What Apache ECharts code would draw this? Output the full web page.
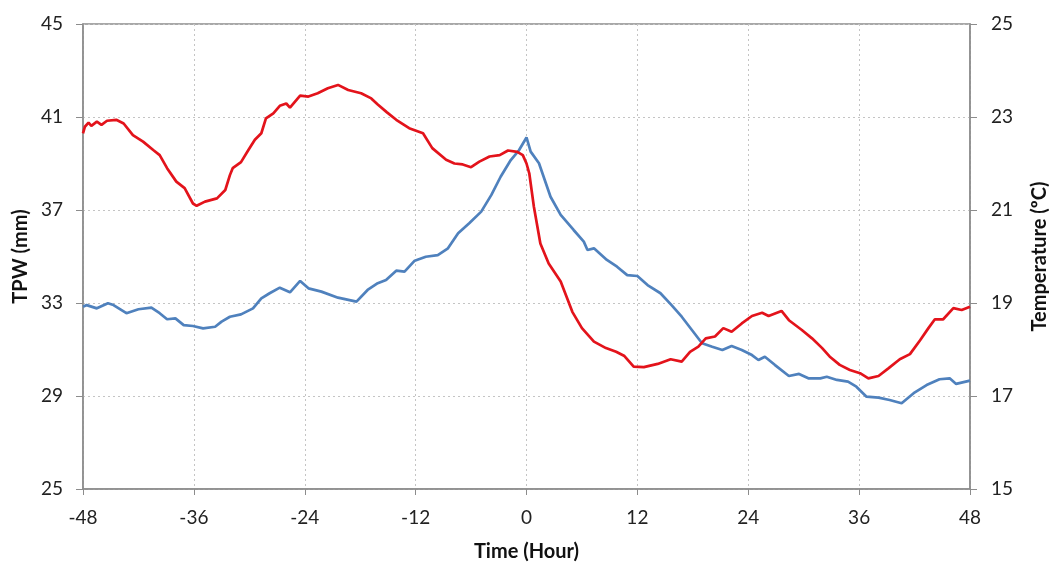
<!DOCTYPE html>
<html><head><meta charset="utf-8">
<script src="https://cdn.jsdelivr.net/npm/echarts@6/dist/echarts.min.js"></script>
<style>html,body{margin:0;padding:0;background:#fff;overflow:hidden}#c{width:1049px;height:562px}</style>
</head><body><div id="c"></div>
<script>
const xTicks = [-48, -36, -24, -12, 0, 12, 24, 36, 48];
const tpwTicks = [25, 29, 33, 37, 41, 45];
const tempTicks = [15, 17, 19, 21, 23, 25];

// TPW (mm), blue line, left axis: [hour, mm]
const tpwSeries = [
  [-48,32.84],[-47.6,32.91],[-46.5,32.77],[-45.3,32.99],[-44.7,32.91],[-43.3,32.56],[-42.0,32.73],[-40.6,32.80],
  [-39.7,32.56],[-38.9,32.30],[-38.0,32.34],[-37.1,32.05],[-36.1,32.01],[-35.0,31.91],[-33.7,31.98],[-33.0,32.20],
  [-32.1,32.41],[-30.9,32.51],[-29.6,32.77],[-28.7,33.20],[-27.8,33.42],[-26.7,33.66],[-25.6,33.46],[-24.5,33.95],
  [-23.6,33.63],[-22.2,33.49],[-20.4,33.23],[-18.4,33.06],[-17.2,33.56],[-16.1,33.85],[-15.2,33.99],[-14.1,34.39],
  [-13.2,34.35],[-12.1,34.82],[-10.9,34.99],[-9.6,35.06],[-8.5,35.35],[-7.4,36.00],[-6.2,36.43],[-4.9,36.93],
  [-3.8,37.65],[-2.8,38.43],[-1.7,39.15],[-0.8,39.58],[0,40.12],[0.45,39.51],[1.35,39.01],[2.6,37.57],
  [3.7,36.79],[5.1,36.14],[6.2,35.64],[6.6,35.28],[7.3,35.35],[8.7,34.85],[9.8,34.56],[10.9,34.20],
  [12.0,34.16],[13.1,33.77],[14.5,33.42],[15.7,32.91],[16.8,32.41],[17.9,31.84],[19.0,31.27],[20.1,31.12],
  [21.2,30.98],[22.2,31.15],[23.3,30.98],[24.4,30.76],[25.1,30.55],[25.8,30.69],[26.9,30.33],[28.4,29.86],
  [29.5,29.95],[30.5,29.76],[31.8,29.76],[32.5,29.83],[33.6,29.69],[34.8,29.62],[35.7,29.40],[36.8,28.97],
  [38.1,28.93],[39.3,28.83],[40.6,28.69],[41.9,29.12],[43.3,29.47],[44.7,29.72],[45.8,29.76],[46.5,29.52],[48,29.66]
];

// Temperature (°C), red line, right axis: [hour, °C]
const tempSeries = [
  [-48,22.65],[-47.8,22.79],[-47.4,22.88],[-47.1,22.81],[-46.5,22.90],[-46.0,22.83],[-45.4,22.92],[-44.4,22.94],
  [-43.6,22.86],[-42.6,22.61],[-41.5,22.47],[-40.4,22.29],[-39.7,22.18],[-38.9,21.90],[-37.9,21.61],[-37.0,21.47],
  [-36.1,21.14],[-35.7,21.09],[-34.8,21.18],[-33.5,21.25],[-32.6,21.43],[-32.1,21.75],[-31.8,21.90],[-30.9,22.03],
  [-30.1,22.29],[-29.4,22.51],[-28.7,22.65],[-28.2,22.97],[-27.4,23.08],[-26.7,23.24],[-26.0,23.29],[-25.6,23.20],
  [-24.5,23.46],[-23.6,23.44],[-22.6,23.51],[-21.5,23.62],[-20.4,23.69],[-19.3,23.58],[-17.9,23.51],[-16.8,23.40],
  [-16.1,23.27],[-15.1,23.10],[-14.1,22.94],[-12.7,22.76],[-11.2,22.65],[-10.2,22.33],[-8.7,22.08],[-7.8,22.00],
  [-6.9,21.98],[-6.0,21.92],[-5.1,22.04],[-4.0,22.15],[-2.9,22.18],[-2.0,22.28],[-1.0,22.25],[-0.4,22.18],
  [0,22.00],[0.3,21.79],[0.8,21.07],[1.5,20.28],[2.4,19.85],[3.7,19.46],[4.96,18.81],[6.0,18.46],
  [7.3,18.17],[8.6,18.03],[9.7,17.95],[10.6,17.86],[11.6,17.63],[12.7,17.62],[14.2,17.69],[15.6,17.79],
  [16.8,17.74],[17.7,17.95],[18.6,18.06],[19.4,18.24],[20.4,18.28],[21.3,18.46],[22.2,18.38],[23.3,18.56],
  [24.4,18.72],[25.5,18.79],[26.2,18.72],[27.6,18.83],[28.4,18.63],[29.8,18.42],[30.9,18.24],[32.0,18.03],
  [32.8,17.85],[33.9,17.67],[35.0,17.56],[36.1,17.49],[37.0,17.38],[38.1,17.43],[39.2,17.60],[40.4,17.79],
  [41.5,17.90],[42.6,18.20],[43.5,18.46],[44.2,18.65],[45.1,18.65],[46.2,18.89],[47.1,18.85],[48,18.92]
];

const FONT = 'Lato, "Open Sans", sans-serif';
const axisLine = { show: true, onZero: false, lineStyle: { color: '#8c8c8c', width: 1.5 } };
const gridLine = { show: true, lineStyle: { color: '#c4c4c4', type: [2, 3], width: 1 } };
const labelStyle = { color: '#222', fontSize: 19, fontFamily: FONT };
const nameStyle = { color: '#111', fontSize: 20, fontWeight: 'bold', fontFamily: FONT };

const chart = echarts.init(document.getElementById('c'), null, { renderer: 'canvas' });
chart.setOption({
  animation: false,
  backgroundColor: '#fff',
  grid: { left: 83, right: 79, top: 24, bottom: 73, show: true, borderColor: '#8c8c8c', borderWidth: 1.5,
          containLabel: false, outerBoundsMode: 'none' },
  xAxis: {
    type: 'value', min: xTicks[0], max: xTicks[xTicks.length - 1], interval: 12,
    name: 'Time (Hour)', nameLocation: 'middle', nameGap: 53, nameTextStyle: nameStyle,
    axisLine: axisLine, axisTick: { show: true, length: 6, lineStyle: { color: '#8c8c8c' } },
    axisLabel: Object.assign({ margin: 19 }, labelStyle),
    splitLine: gridLine
  },
  yAxis: [
    {
      type: 'value', position: 'left', min: tpwTicks[0], max: tpwTicks[tpwTicks.length - 1], interval: 4,
      name: 'TPW (mm)', nameLocation: 'middle', nameGap: 52, nameRotate: 90, nameTextStyle: nameStyle,
      axisLine: axisLine, axisTick: { show: true, length: 7, lineStyle: { color: '#8c8c8c' } },
      axisLabel: Object.assign({ margin: 20 }, labelStyle),
      splitLine: gridLine
    },
    {
      type: 'value', position: 'right', min: tempTicks[0], max: tempTicks[tempTicks.length - 1], interval: 2,
      name: 'Temperature (ºC)', nameLocation: 'middle', nameGap: 60, nameRotate: 90, nameTextStyle: nameStyle,
      axisLine: axisLine, axisTick: { show: true, length: 7, lineStyle: { color: '#8c8c8c' } },
      axisLabel: Object.assign({ margin: 21 }, labelStyle),
      splitLine: { show: false }
    }
  ],
  series: [
    { name: 'TPW', type: 'line', yAxisIndex: 0, data: tpwSeries, showSymbol: false, symbol: 'none',
      lineStyle: { color: '#4f81bd', width: 2.7 }, z: 3 },
    { name: 'Temperature', type: 'line', yAxisIndex: 1, data: tempSeries, showSymbol: false, symbol: 'none',
      lineStyle: { color: '#e3131b', width: 2.7 }, z: 4 }
  ]
});
</script></body></html>
